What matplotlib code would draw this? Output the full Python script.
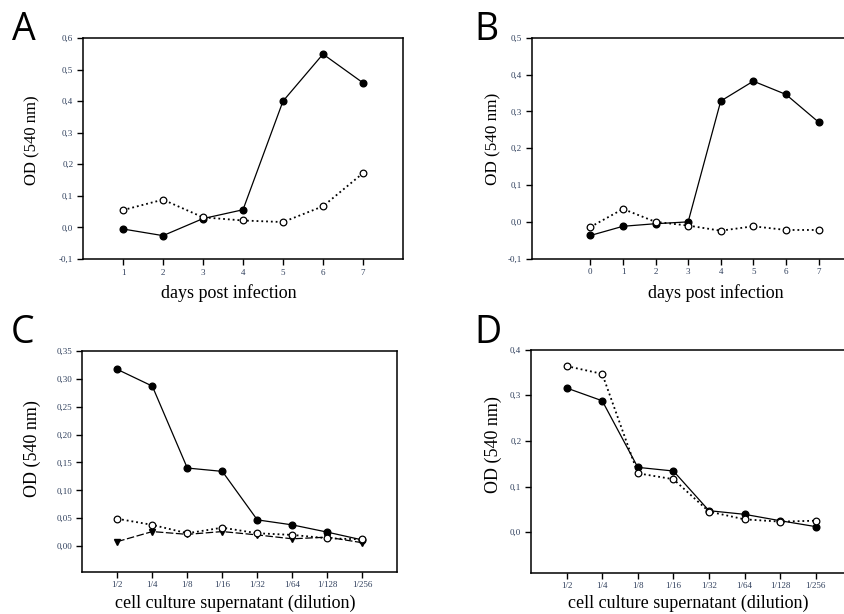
import numpy as np
import matplotlib
matplotlib.use("Agg")
import matplotlib.pyplot as plt

# panel A: days post infection
days_a = [1, 2, 3, 4, 5, 6, 7]
a_filled = [-0.005, -0.026, 0.028, 0.056, 0.40, 0.549, 0.458]
a_open = [0.055, 0.088, 0.032, 0.022, 0.017, 0.067, 0.172]

# panel B
days_b = [0, 1, 2, 3, 4, 5, 6, 7]
b_filled = [-0.037, -0.012, -0.005, 0.0, 0.328, 0.382, 0.346, 0.271]
b_open = [-0.014, 0.035, 0.0, -0.01, -0.024, -0.012, -0.022, -0.022]

# panels C and D: dilution series
dilutions = ["1/2", "1/4", "1/8", "1/16", "1/32", "1/64", "1/128", "1/256"]
c_filled = [0.317, 0.287, 0.140, 0.134, 0.047, 0.038, 0.025, 0.011]
c_open = [0.049, 0.038, 0.023, 0.033, 0.023, 0.020, 0.014, 0.012]
c_tri = [0.008, 0.026, 0.021, 0.026, 0.020, 0.013, 0.016, 0.006]

d_filled = [0.316, 0.288, 0.142, 0.134, 0.047, 0.039, 0.025, 0.012]
d_open = [0.364, 0.347, 0.129, 0.116, 0.045, 0.028, 0.023, 0.025]

W, H = 844, 614
fig = plt.figure(figsize=(W / 100, H / 100), dpi=100)

tick_col = "#2f3f5c"
serif = ["Liberation Serif", "DejaVu Serif"]


def make_axes(left, top, right, bottom):
    return fig.add_axes([left / W, 1 - bottom / H, (right - left) / W, (bottom - top) / H])


def style(ax, yticks, ylabels, xlabel, xl_pos, yl_pos, xl_size, yl_size):
    for s in ax.spines.values():
        s.set_linewidth(1.1)
    ax.set_yticks(yticks)
    ax.set_yticklabels(ylabels)
    ax.tick_params(direction="out", length=4, width=1.0, labelsize=6.5,
                   labelcolor=tick_col, pad=3)
    for t in ax.get_xticklabels() + ax.get_yticklabels():
        t.set_family(serif)
    ax.set_ylabel("OD (540 nm)", family=serif, fontsize=yl_size, va="center")
    ax.set_xlabel(xlabel, family=serif, fontsize=xl_size, va="center")
    ax.xaxis.set_label_coords(*xl_pos)
    ax.yaxis.set_label_coords(*yl_pos)


def filled(ax, x, y):
    ax.plot(x, y, "-", color="black", lw=0.9, marker="o", ms=4.8,
            mfc="black", mec="black", zorder=3)


def hollow(ax, x, y):
    ax.plot(x, y, ":", color="black", lw=1.3, marker="o", ms=4.8,
            mfc="white", mec="black", mew=0.9, zorder=4)


# A
ax = make_axes(83, 38, 403, 259)
filled(ax, days_a, a_filled)
hollow(ax, days_a, a_open)
ax.set_xlim(0, 8)
ax.set_ylim(-0.1, 0.6)
ax.set_xticks(days_a)
style(ax, np.arange(-0.1, 0.61, 0.1),
      ["-0,1", "0,0", "0,1", "0,2", "0,3", "0,4", "0,5", "0,6"], "days post infection",
      (0.455, -0.154), (-0.159, 0.538), 13, 12)

# B (right edge cropped off)
ax = make_axes(531.7, 37.7, 851.1, 258.7)
filled(ax, days_b, b_filled)
hollow(ax, days_b, b_open)
ax.set_xlim(-1.8, 8)
ax.set_ylim(-0.1, 0.5)
ax.set_xticks(days_b)
style(ax, np.arange(-0.1, 0.51, 0.1),
      ["-0,1", "0,0", "0,1", "0,2", "0,3", "0,4", "0,5"], "days post infection",
      (0.577, -0.155), (-0.121, 0.542), 13, 12.3)

# C
xpos = np.arange(1, len(dilutions) + 1)
ax = make_axes(82.3, 351, 397.3, 571.7)
filled(ax, xpos, c_filled)
hollow(ax, xpos, c_open)
ax.plot(xpos, c_tri, color="black", lw=0.9, ls=(0, (6, 2)), marker="v", ms=4.5,
        mfc="black", mec="black", zorder=3)
ax.set_xlim(0, 9)
ax.set_ylim(-0.046, 0.35)
ax.set_xticks(xpos)
ax.set_xticklabels(dilutions)
style(ax, np.arange(0, 0.351, 0.05),
      ["0,00", "0,05", "0,10", "0,15", "0,20", "0,25", "0,30", "0,35"],
      "cell culture supernatant (dilution)",
      (0.485, -0.142), (-0.160, 0.558), 13, 13)

# D (right edge cropped off)
ax = make_axes(531, 349.7, 851.4, 572.7)
filled(ax, xpos, d_filled)
hollow(ax, xpos, d_open)
ax.set_xlim(0, 9)
ax.set_ylim(-0.089, 0.4)
ax.set_xticks(xpos)
ax.set_xticklabels(dilutions)
style(ax, np.arange(0, 0.41, 0.1), ["0,0", "0,1", "0,2", "0,3", "0,4"],
      "cell culture supernatant (dilution)",
      (0.49, -0.136), (-0.119, 0.573), 13, 13)

# panel letters
for letter, x, y in [("A", 12, 40), ("B", 474, 40), ("C", 11, 343), ("D", 474, 343)]:
    fig.text(x / W, 1 - y / H, letter, fontsize=27, family=["Open Sans", "DejaVu Sans"],
             ha="left", va="baseline")

fig.savefig("out.png", dpi=100)
